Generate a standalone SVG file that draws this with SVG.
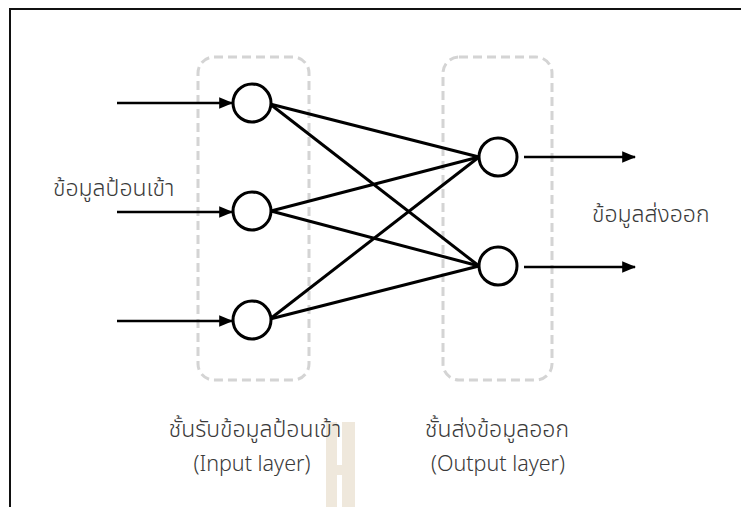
<svg xmlns="http://www.w3.org/2000/svg" width="741" height="507" viewBox="0 0 741 507">
  <style>
    .frame { fill: none; stroke: #111; stroke-width: 2; }
    .layer { fill: none; stroke: #d4d4d4; stroke-width: 3; stroke-dasharray: 9 5; }
    .neuron { fill: #fff; stroke: #000; stroke-width: 3; }
    .link { stroke: #000; stroke-width: 3; fill: none; }
    .arrow { stroke: #000; stroke-width: 2.5; fill: none; marker-end: url(#head); }
    .label { font-family: "Noto Sans Thai", "Noto Sans", "DejaVu Sans", sans-serif; font-size: 21.5px; font-weight: 300; fill: #3a3a3a; }
    .th { font-size: 23px; }
  </style>
  <defs>
    <marker id="head" viewBox="0 0 12 10" refX="11" refY="5" markerWidth="5.6" markerHeight="4.8" markerUnits="strokeWidth" orient="auto">
      <path d="M0,0 L12,5 L0,10 z" fill="#000"/>
    </marker>
  </defs>
  <rect width="741" height="507" fill="#fff"/>
  <!-- outer frame: top and left edges only -->
  <path class="frame" d="M10,507 V9 H741"/>

  <!-- background mark under the layer caption -->
  <g id="mark" fill="#efe8dc">
    <rect x="326" y="422" width="11" height="85"/>
    <rect x="342" y="422" width="13" height="85"/>
    <rect x="337" y="465" width="5" height="10"/>
  </g>

  <!-- layer frames -->
  <g id="input-layer">
    <rect class="layer" x="198" y="57" width="111" height="323" rx="16"/>
  </g>
  <g id="output-layer">
    <rect class="layer" x="443" y="57" width="109" height="323" rx="16"/>
  </g>

  <g id="connectors">
    <line class="arrow" x1="117" y1="103" x2="232" y2="103"/>
    <line class="arrow" x1="117" y1="212" x2="232" y2="212"/>
    <line class="arrow" x1="117" y1="321" x2="232" y2="321"/>
    <line class="link" x1="270" y1="104" x2="479" y2="157"/>
    <line class="link" x1="270" y1="104" x2="479" y2="266"/>
    <line class="link" x1="271" y1="211" x2="479" y2="157"/>
    <line class="link" x1="271" y1="211" x2="479" y2="266"/>
    <line class="link" x1="270" y1="319" x2="479" y2="157"/>
    <line class="link" x1="270" y1="319" x2="479" y2="266"/>
    <line class="arrow" x1="524" y1="157" x2="635" y2="157"/>
    <line class="arrow" x1="524" y1="267" x2="635" y2="267"/>
  </g>

  <g id="in1"><circle class="neuron" cx="252" cy="103" r="19"/></g>
  <g id="in2"><circle class="neuron" cx="252" cy="211" r="19"/></g>
  <g id="in3"><circle class="neuron" cx="252" cy="320" r="19"/></g>
  <g id="out1"><circle class="neuron" cx="498" cy="157" r="19"/></g>
  <g id="out2"><circle class="neuron" cx="498" cy="266" r="19"/></g>

  <g id="labels">
    <text class="label th" x="53" y="196">ข้อมูลป้อนเข้า</text>
    <text class="label th" x="592" y="222">ข้อมูลส่งออก</text>
    <text class="label th" x="255" y="437" text-anchor="middle">ชั้นรับข้อมูลป้อนเข้า</text>
    <text class="label" x="252" y="471" text-anchor="middle">(Input layer)</text>
    <text class="label th" x="497" y="437" text-anchor="middle">ชั้นส่งข้อมูลออก</text>
    <text class="label" x="498" y="471" text-anchor="middle">(Output layer)</text>
  </g>
</svg>
